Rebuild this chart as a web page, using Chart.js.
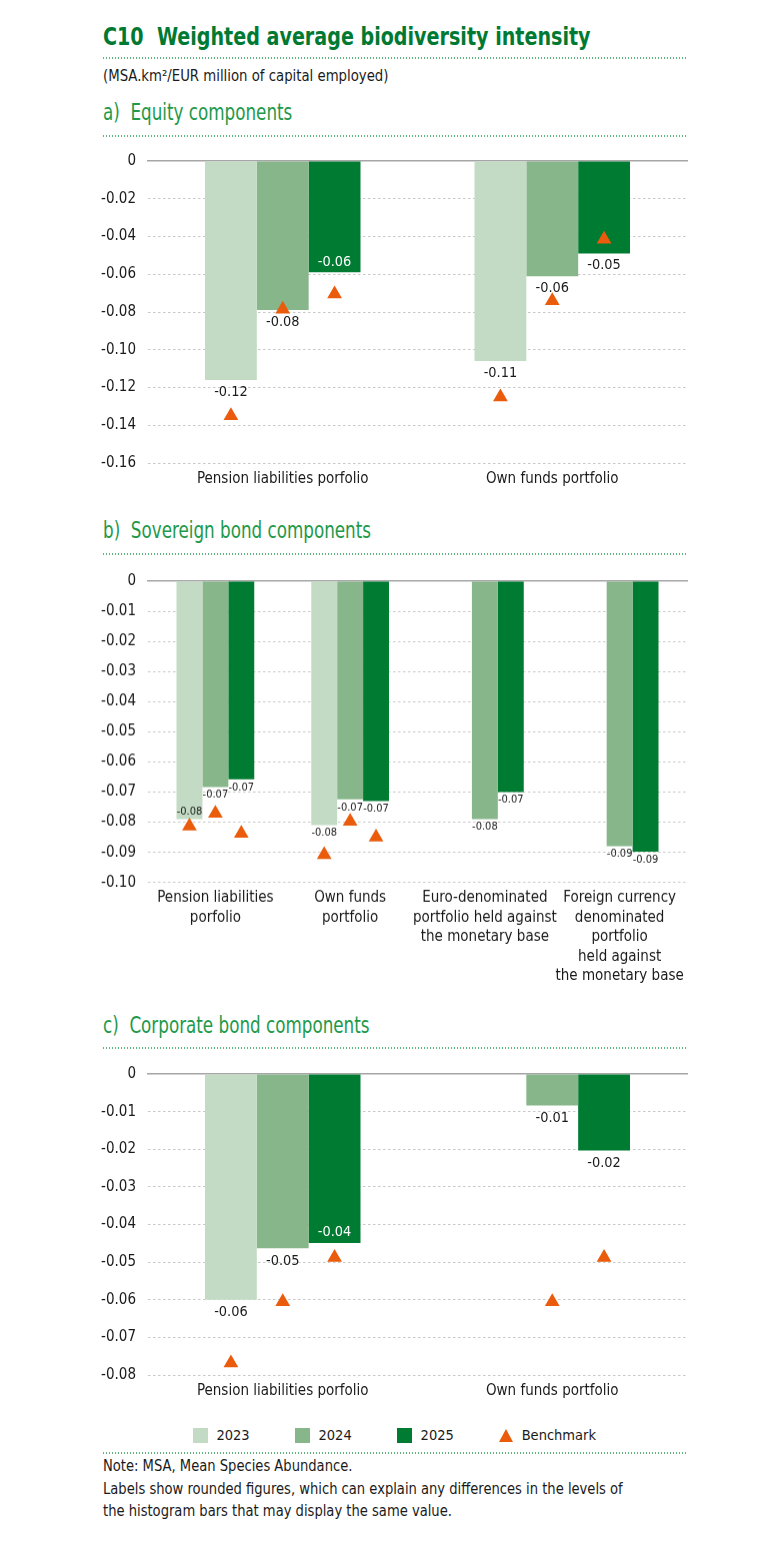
<!DOCTYPE html>
<html>
<head>
<meta charset="utf-8">
<script src="https://cdn.jsdelivr.net/npm/chart.js@4.4.1/dist/chart.umd.min.js"></script>
<style>
  body { margin: 0; background: #fff; }
  #page { position: relative; width: 768px; height: 1563px; overflow: hidden;
          font-family: "DejaVu Sans Condensed", "Liberation Sans", sans-serif; color: #1a1a1a; }
  .abs { position: absolute; white-space: nowrap; transform-origin: 0 0; }
  .title { left: 103px; top: 24px; font-size: 25px; line-height: 25px; font-weight: bold; color: #007a33; transform: scaleX(0.85); }
  .sub { left: 103px; top: 68px; font-size: 16px; line-height: 16px; transform: scaleX(0.922); }
  .head { left: 103px; font-size: 23px; line-height: 23px; color: #22994a; transform: scaleX(0.81); }
  .dots { left: 103px; width: 585px; height: 2px;
          background-image: linear-gradient(to right, #5bb77a 50%, rgba(255,255,255,0) 50%);
          background-size: 3px 2px; background-repeat: repeat-x; }
  .box { position: absolute; left: 0; width: 768px; }
  .note { left: 103px; top: 1455px; font-size: 16px; line-height: 22.5px; transform: scaleX(0.911); }
  #legend { position: absolute; left: 193px; top: 1427px; height: 16px; display: flex; align-items: center; gap: 45.5px;
            font-size: 14.5px; line-height: 16px; white-space: nowrap; }
  #legend .item { display: flex; align-items: center; }
  #legend .sq { width: 15px; height: 15px; margin-right: 8.4px; }
  #legend .tri { width: 0; height: 0; border-left: 7.5px solid transparent; border-right: 7.5px solid transparent;
                 border-bottom: 13px solid; margin-right: 8.4px; }
</style>
</head>
<body>
<div id="page">
  <div class="abs title">C10&nbsp;&nbsp;Weighted average biodiversity intensity</div>
  <div class="abs dots" style="top:56.5px"></div>
  <div class="abs sub">(MSA.km²/EUR million of capital employed)</div>

  <div class="abs head" style="top:101px">a)&nbsp;&nbsp;Equity components</div>
  <div class="abs dots" style="top:134.5px"></div>
  <div class="box" style="top:140px;height:365px"><canvas id="chartA"></canvas></div>

  <div class="abs head" style="top:519px">b)&nbsp;&nbsp;Sovereign bond components</div>
  <div class="abs dots" style="top:553px"></div>
  <div class="box" style="top:560px;height:431.7px"><canvas id="chartB"></canvas></div>

  <div class="abs head" style="top:1014px">c)&nbsp;&nbsp;Corporate bond components</div>
  <div class="abs dots" style="top:1046.5px"></div>
  <div class="box" style="top:1053px;height:352px"><canvas id="chartC"></canvas></div>

  <div id="legend"></div>
  <div class="abs dots" style="top:1451.5px"></div>
  <div class="abs note">Note: MSA, Mean Species Abundance.<br>Labels show rounded figures, which can explain any differences in the levels of<br>the histogram bars that may display the same value.</div>
</div>

<script>
// Jahre und Reihen
const years = ['2023', '2024', '2025'];

// a) Equity
const equityCats = ['Pension liabilities porfolio', 'Own funds portfolio'];
const equity2023 = [-0.116, -0.106];
const equity2024 = [-0.079, -0.061];
const equity2025 = [-0.059, -0.049];
const equityBench2023 = [-0.135, -0.125];
const equityBench2024 = [-0.0785, -0.074];
const equityBench2025 = [-0.0705, -0.0415];

// b) Sovereign bonds
const sovCats = [
    ['Pension liabilities', 'porfolio'],
    ['Own funds', 'portfolio'],
    ['Euro-denominated', 'portfolio held against', 'the monetary base'],
    ['Foreign currency', 'denominated', 'portfolio', 'held against', 'the monetary base']
];
const sov2023 = [-0.079, -0.081, null, null];
const sov2024 = [-0.0683, -0.0724, -0.079, -0.088];
const sov2025 = [-0.0658, -0.073, -0.070, -0.0898];
const sovBench2023 = [-0.0813, -0.0908, null, null];
const sovBench2024 = [-0.0771, -0.0797, null, null];
const sovBench2025 = [-0.0837, -0.085, null, null];

// c) Corporate bonds
const corpCats = ['Pension liabilities porfolio', 'Own funds portfolio'];
const corp2023 = [-0.060, null];
const corp2024 = [-0.0463, -0.0084];
const corp2025 = [-0.0449, -0.0203];
const corpBench2023 = [-0.0768, null];
const corpBench2024 = [-0.0605, -0.0605];
const corpBench2025 = [-0.0488, -0.0488];

const FONT = '"DejaVu Sans Condensed", "Liberation Sans", sans-serif';
const barColors = ['#c3dbc4', '#87b68b', '#007b32'];
const benchColor = '#ea5b0c';
const textColor = '#1a1a1a';

Chart.defaults.font.family = FONT;
Chart.defaults.color = textColor;

// Benchmark-Dreiecke auf die Mitte des jeweiligen Balkens schieben
const benchAlign = {
    id: 'benchAlign',
    afterDatasetsUpdate(chart) {
        chart.data.datasets.forEach((ds, di) => {
            if (ds.forBar === undefined) return;
            const bars = chart.getDatasetMeta(ds.forBar).data;
            chart.getDatasetMeta(di).data.forEach((pt, i) => { pt.x = bars[i].x; });
        });
    }
};

// Gerundete Werte unter (oder in) den Balken
function makeValueLabels(cfg) {
    return {
        id: 'valueLabels',
        afterDatasetsDraw(chart) {
            const ctx = chart.ctx;
            ctx.save();
            ctx.font = cfg.size + 'px ' + FONT;
            ctx.textAlign = 'center';
            ctx.textBaseline = 'middle';
            chart.data.datasets.forEach((ds, di) => {
                if (ds.type !== 'bar') return;
                chart.getDatasetMeta(di).data.forEach((bar, i) => {
                    const v = ds.data[i];
                    if (v === null) return;
                    const inside = cfg.inside.some(p => p[0] === di && p[1] === i);
                    ctx.fillStyle = inside && di === 2 ? '#ffffff' : textColor;
                    ctx.fillText(v.toFixed(2), bar.x, bar.y + (inside ? -cfg.up : cfg.down));
                });
            });
            ctx.restore();
        }
    };
}

// HTML-Legende aus den Legend-Items von Chart.js
const htmlLegend = {
    id: 'htmlLegend',
    afterUpdate(chart) {
        const box = document.getElementById('legend');
        box.innerHTML = '';
        const items = chart.options.plugins.legend.labels.generateLabels(chart)
            .filter(item => {
                const ds = chart.data.datasets[item.datasetIndex];
                return ds.forBar === undefined || ds.forBar === 0;
            })
            .sort((a, b) => a.datasetIndex - b.datasetIndex);
        items.forEach(item => {
            const ds = chart.data.datasets[item.datasetIndex];
            const el = document.createElement('div');
            el.className = 'item';
            const mark = document.createElement('span');
            if (ds.pointStyle === 'triangle') {
                mark.className = 'tri';
                mark.style.borderBottomColor = ds.pointBackgroundColor;
            } else {
                mark.className = 'sq';
                mark.style.background = ds.backgroundColor;
            }
            el.appendChild(mark);
            el.appendChild(document.createTextNode(item.text));
            box.appendChild(el);
        });
    }
};

function makePanel(canvasId, labels, bars, benches, o) {
    const datasets = bars.map((data, k) => ({
        type: 'bar',
        label: years[k],
        data: data,
        backgroundColor: barColors[k],
        borderWidth: 0,
        pointStyle: 'rect',
        categoryPercentage: 0.577,
        barPercentage: 1,
        order: 2
    }));
    benches.forEach((data, k) => datasets.push({
        type: 'line',
        label: 'Benchmark',
        data: data,
        forBar: k,
        showLine: false,
        pointStyle: 'triangle',
        pointRadius: 8.5,
        pointHoverRadius: 8.5,
        pointBorderWidth: 0,
        pointBackgroundColor: benchColor,
        pointBorderColor: benchColor,
        backgroundColor: benchColor,
        borderColor: benchColor,
        order: 1
    }));

    const plugins = [benchAlign, makeValueLabels(o.labels)];
    if (o.legend) plugins.push(htmlLegend);

    return new Chart(document.getElementById(canvasId), {
        type: 'bar',
        data: { labels: labels, datasets: datasets },
        options: {
            responsive: true,
            maintainAspectRatio: false,
            animation: false,
            events: [],
            layout: { padding: { left: 98, right: 81, top: o.padTop, bottom: 0 } },
            plugins: {
                tooltip: { enabled: false },
                legend: { display: false }
            },
            scales: {
                x: {
                    type: 'category',
                    position: 'bottom',
                    grid: { display: false, drawTicks: false },
                    border: { display: false },
                    ticks: {
                        color: textColor,
                        font: { size: 15, lineHeight: 1.3 },
                        padding: 6,
                        maxRotation: 0,
                        autoSkip: false
                    },
                    afterFit: s => { s.height = o.xHeight; }
                },
                x2: {
                    type: 'category',
                    position: 'top',
                    grid: { display: false, drawTicks: false },
                    border: { display: true, color: '#a6a6a6', width: 1.5 },
                    ticks: { display: false },
                    afterFit: s => { s.height = 0; }
                },
                y: {
                    min: o.min,
                    max: 0,
                    ticks: {
                        stepSize: o.step,
                        color: textColor,
                        font: { size: 15 },
                        padding: 12,
                        callback: v => Math.abs(v) < 1e-9 ? '0' : v.toFixed(2)
                    },
                    grid: {
                        drawTicks: false,
                        lineWidth: 1,
                        color: c => (c.tick && Math.abs(c.tick.value) < 1e-9) ? 'rgba(0,0,0,0)' : '#c8c8c8'
                    },
                    border: { display: false, dash: [2.5, 2.5] },
                    afterFit: s => { s.width = 50; }
                }
            }
        },
        plugins: plugins
    });
}

makePanel('chartA', equityCats,
    [equity2023, equity2024, equity2025],
    [equityBench2023, equityBench2024, equityBench2025],
    { min: -0.16, step: 0.02, padTop: 20, xHeight: 42, legend: false,
      labels: { size: 14.4, down: 12, up: 10, inside: [[2, 0]] } });

makePanel('chartB', sovCats,
    [sov2023, sov2024, sov2025],
    [sovBench2023, sovBench2024, sovBench2025],
    { min: -0.10, step: 0.01, padTop: 19.3, xHeight: 110, legend: false,
      labels: { size: 11, down: 8, up: 7.5, inside: [[0, 0]] } });

makePanel('chartC', corpCats,
    [corp2023, corp2024, corp2025],
    [corpBench2023, corpBench2024, corpBench2025],
    { min: -0.08, step: 0.01, padTop: 19.7, xHeight: 30, legend: true,
      labels: { size: 14.4, down: 13, up: 11, inside: [[2, 0]] } });
</script>
</body>
</html>
